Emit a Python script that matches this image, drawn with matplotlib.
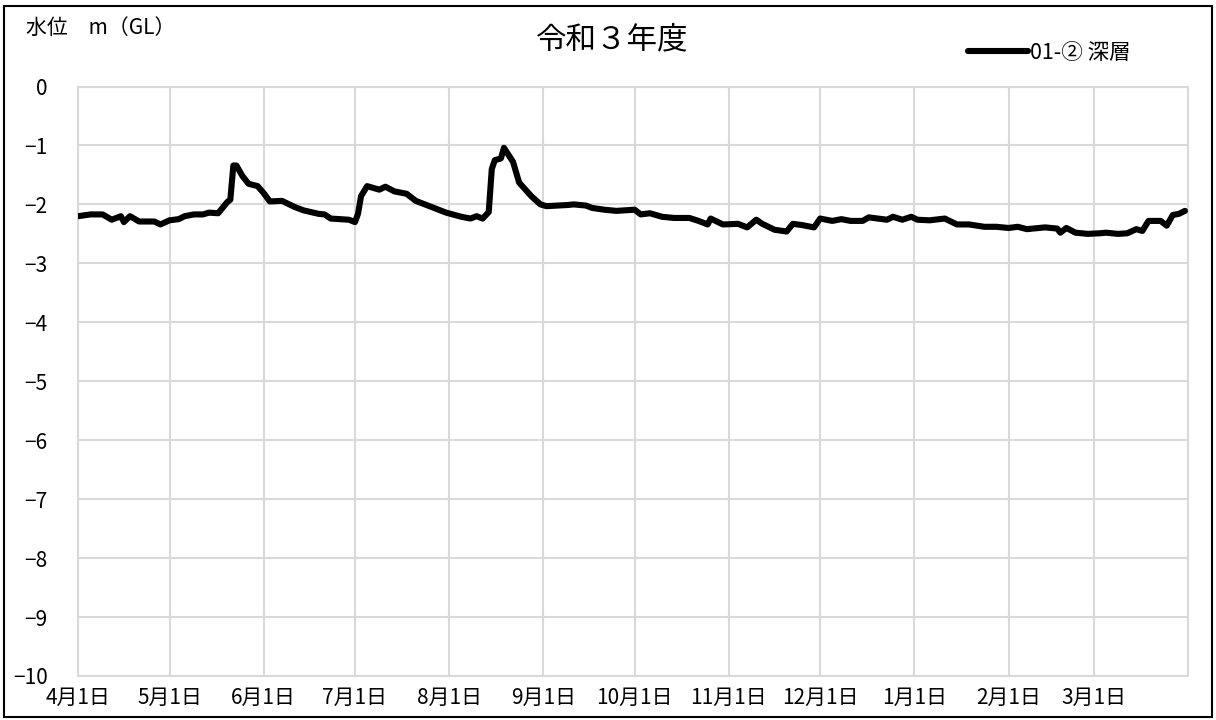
import matplotlib
matplotlib.use("Agg")
import matplotlib.pyplot as plt
import matplotlib.patches as mpatches
import pandas as pd

plt.rcParams["font.family"] = ["Noto Sans CJK JP", "DejaVu Sans"]

# days since 2021-04-01 and water level (m, GL)
days = [0, 4, 8, 11, 14, 15, 17, 20, 25, 27, 30, 33, 35, 38, 41, 43, 46, 49, 50, 51,
        52, 54, 56, 59, 61, 63, 67, 71, 74, 79, 81, 83, 89, 91, 92, 93, 95, 99, 101, 104,
        108, 111, 117, 121, 126, 129, 131, 133, 135, 136, 137, 139, 140, 143, 145, 149, 152, 154, 161, 163,
        167, 169, 173, 177, 183, 185, 188, 192, 196, 201, 204, 207, 208, 212, 217, 220, 223, 225, 229, 233,
        235, 238, 242, 244, 246, 248, 251, 254, 258, 260, 266, 268, 271, 274, 276, 280, 285, 289, 293, 298,
        302, 306, 309, 312, 318, 322, 323, 325, 328, 332, 336, 338, 342, 345, 348, 350, 352, 356, 358, 360,
        362, 364]
level = [-2.20, -2.17, -2.17, -2.26, -2.20, -2.30, -2.20, -2.29, -2.29, -2.34, -2.27, -2.25, -2.20, -2.17, -2.17, -2.14, -2.15, -1.96, -1.92, -1.34,
         -1.34, -1.52, -1.65, -1.69, -1.81, -1.95, -1.94, -2.04, -2.10, -2.16, -2.17, -2.24, -2.26, -2.30, -2.16, -1.86, -1.69, -1.75, -1.70, -1.78,
         -1.82, -1.94, -2.06, -2.14, -2.21, -2.24, -2.20, -2.24, -2.13, -1.40, -1.25, -1.22, -1.04, -1.28, -1.63, -1.86, -2.00, -2.03, -2.01, -2.00,
         -2.02, -2.06, -2.09, -2.11, -2.09, -2.17, -2.15, -2.21, -2.23, -2.23, -2.28, -2.34, -2.24, -2.34, -2.33, -2.39, -2.26, -2.33, -2.43, -2.46,
         -2.33, -2.35, -2.39, -2.24, -2.26, -2.28, -2.25, -2.28, -2.28, -2.22, -2.26, -2.21, -2.26, -2.21, -2.26, -2.27, -2.24, -2.34, -2.34, -2.38,
         -2.38, -2.40, -2.38, -2.42, -2.39, -2.41, -2.48, -2.40, -2.48, -2.50, -2.49, -2.48, -2.50, -2.49, -2.42, -2.45, -2.28, -2.28, -2.36, -2.18,
         -2.16, -2.11]

start = pd.Timestamp("2021-04-01")
dates = start + pd.to_timedelta(days, unit="D")
month_ticks = pd.date_range("2021-04-01", "2022-03-01", freq="MS")
month_labels = [f"{d.month}月1日" for d in month_ticks]
y_ticks = list(range(0, -11, -1))

W, H = 1216, 720
fig = plt.figure(figsize=(W / 100, H / 100), dpi=100)
ax = fig.add_axes([78.3 / W, 1 - 676 / H, (1188 - 78.3) / W, (676 - 86.5) / H])

ax.plot(dates, level, color="black", lw=4.4, solid_joinstyle="round",
        solid_capstyle="round", label="01-② 深層", zorder=3)

grid_c = "#d9d9d9"
ax.set_xlim(start, pd.Timestamp("2022-04-01"))
ax.set_ylim(-10, 0)
ax.set_xticks(month_ticks)
ax.set_xticklabels(month_labels)
ax.set_yticks(y_ticks)
ax.grid(True, color=grid_c, lw=1.5)
ax.tick_params(length=0, labelsize=15)
ax.tick_params(axis="y", pad=22)
ax.tick_params(axis="x", pad=8)
for s in ax.spines.values():
    s.set_color(grid_c)
    s.set_linewidth(1.5)

fig.text(612 / W, 1 - 40 / H, "令和３年度", ha="center", va="center", fontsize=22)
fig.text(26 / W, 1 - 28 / H, "水位　m（GL）", ha="left", va="center", fontsize=15)
fig.legend(loc="center left", bbox_to_anchor=(968 / W, 1 - 53 / H), frameon=False,
           fontsize=15.5, handlelength=2.8, handletextpad=0.1, borderaxespad=0, borderpad=0)

fig.patches.append(mpatches.Rectangle((4 / W, 3 / H), 1 - 8 / W, 1 - 9 / H,
                                      transform=fig.transFigure, fill=False,
                                      edgecolor="black", lw=1.5))

fig.savefig("out.png", dpi=100)
